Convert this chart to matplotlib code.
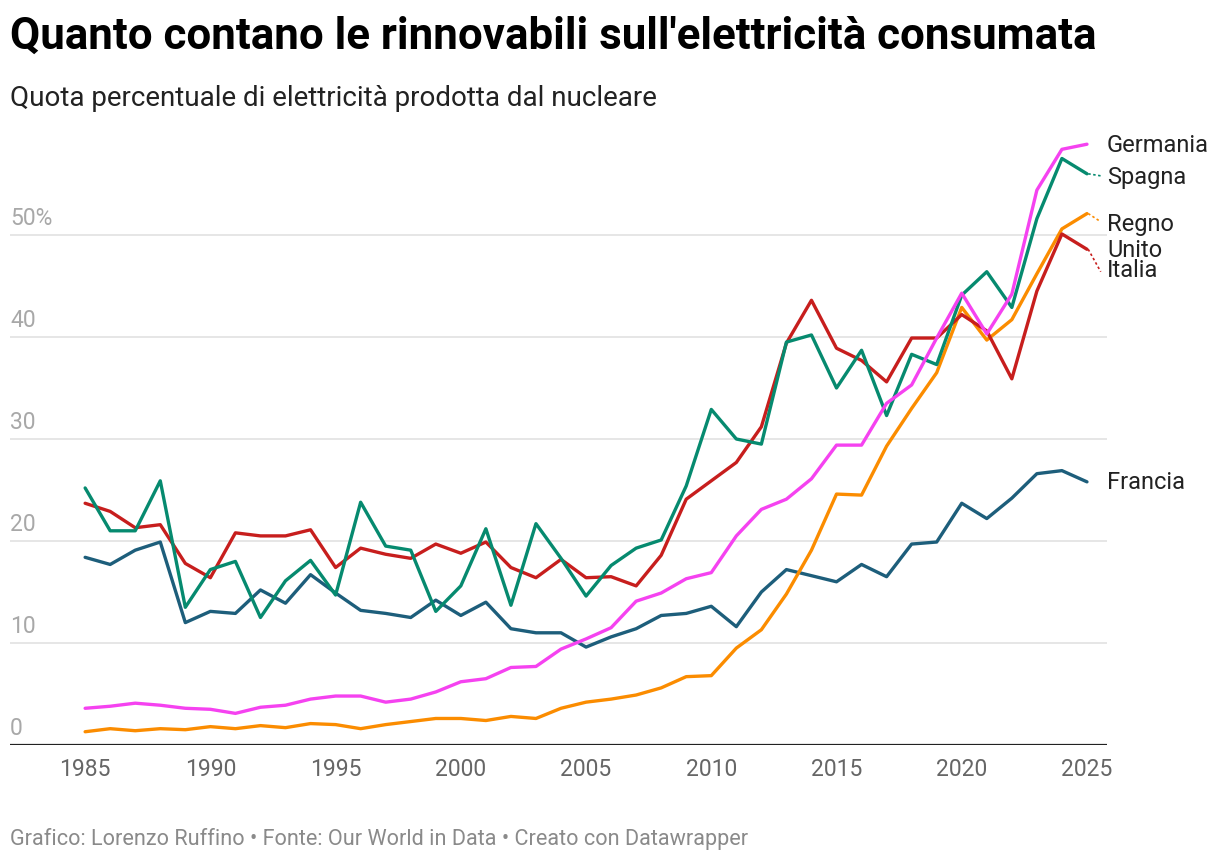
import matplotlib.pyplot as plt
import numpy as np

plt.rcParams['font.family'] = ['Roboto', 'DejaVu Sans']

years = list(range(1985, 2026))

# quota % per paese
francia = [18.4, 17.7, 19.1, 19.9, 12.0, 13.1, 12.9, 15.2, 13.9, 16.7,
           14.9, 13.2, 12.9, 12.5, 14.2, 12.7, 14.0, 11.4, 11.0, 11.0,
           9.6, 10.6, 11.4, 12.7, 12.9, 13.6, 11.6, 15.0, 17.2, 16.6,
           16.0, 17.7, 16.5, 19.7, 19.9, 23.7, 22.2, 24.2, 26.6, 26.9, 25.8]
spagna = [25.2, 21.0, 21.0, 25.9, 13.5, 17.2, 18.0, 12.5, 16.1, 18.1,
          14.7, 23.8, 19.5, 19.1, 13.1, 15.6, 21.2, 13.7, 21.7, 18.3,
          14.6, 17.6, 19.3, 20.1, 25.4, 32.9, 30.0, 29.5, 39.5, 40.2,
          35.0, 38.7, 32.3, 38.3, 37.3, 44.1, 46.4, 42.9, 51.6, 57.5, 56.0]
italia = [23.7, 22.9, 21.3, 21.6, 17.8, 16.4, 20.8, 20.5, 20.5, 21.1,
          17.4, 19.3, 18.7, 18.3, 19.7, 18.8, 19.9, 17.4, 16.4, 18.2,
          16.4, 16.5, 15.6, 18.6, 24.1, 25.9, 27.7, 31.2, 39.4, 43.6,
          38.9, 37.7, 35.6, 39.9, 39.9, 42.2, 40.6, 35.9, 44.5, 50.1, 48.6]
germania = [3.6, 3.8, 4.1, 3.9, 3.6, 3.5, 3.1, 3.7, 3.9, 4.5,
            4.8, 4.8, 4.2, 4.5, 5.2, 6.2, 6.5, 7.6, 7.7, 9.4,
            10.4, 11.5, 14.1, 14.9, 16.3, 16.9, 20.5, 23.1, 24.1, 26.1,
            29.4, 29.4, 33.5, 35.3, 39.9, 44.3, 40.3, 44.2, 54.4, 58.4, 58.9]
regno_unito = [1.3, 1.6, 1.4, 1.6, 1.5, 1.8, 1.6, 1.9, 1.7, 2.1,
               2.0, 1.6, 2.0, 2.3, 2.6, 2.6, 2.4, 2.8, 2.6, 3.6,
               4.2, 4.5, 4.9, 5.6, 6.7, 6.8, 9.5, 11.3, 14.8, 19.1,
               24.6, 24.5, 29.3, 33.0, 36.5, 42.9, 39.7, 41.7, 46.2, 50.6, 52.1]

labels = ['Francia', 'Regno\nUnito', 'Italia', 'Spagna', 'Germania']
colors = ['#1d5e7b', '#fb8c00', '#c71e1d', '#068a6f', '#f542f0']
label_y = [25.8, 49.85, 46.6, 55.7, 58.9]
# dove il connettore tocca l'etichetta
conn_y = [25.8, 51.3, 46.4, 55.8, 58.9]

y_ticks = [0, 10, 20, 30, 40, 50]
y_tick_labels = ['0', '10', '20', '30', '40', '50%']
x_ticks = [1985, 1990, 1995, 2000, 2005, 2010, 2015, 2020, 2025]

fig = plt.figure(figsize=(12.2, 8.62), dpi=100)
ax = fig.add_axes([10 / 1220, 1 - 746 / 862, 1097 / 1220, 612 / 862])

series = [francia, regno_unito, italia, spagna, germania]
for vals, col, lab, ly, cy in zip(series, colors, labels, label_y, conn_y):
    ax.plot(years, vals, color=col, lw=2.4, solid_joinstyle='round',
            solid_capstyle='round', zorder=3)
    # connettore verso l'etichetta
    if lab not in ('Francia', 'Germania'):
        ax.plot([years[-1] + 0.05, years[-1] + 0.55], [vals[-1], cy],
                color=col, lw=1.2, ls=(0, (1.5, 1.5)), zorder=2, clip_on=False)
    ax.text(2025.8, ly, lab, fontsize=17, color='#222222', va='center',
            ha='left', linespacing=1.12)

ax.set_xlim(1982.0, 2025.8)
ax.set_ylim(0, 60)

for t in y_ticks[1:]:
    ax.axhline(t, color='#e2e2e2', lw=1.2, zorder=1)
ax.axhline(0, color='#222222', lw=1.6, zorder=4)

for t, lab in zip(y_ticks, y_tick_labels):
    ax.text(1982.0, t + 0.6, lab, fontsize=16.5, color='#a8a8a8', ha='left', va='bottom')

ax.set_yticks([])
ax.set_xticks(x_ticks)
ax.set_xticklabels([str(x) for x in x_ticks], fontsize=16.5, color='#666666')
ax.tick_params(axis='x', length=0, pad=9)
for s in ax.spines.values():
    s.set_visible(False)

fig.text(10 / 1220, 1 - 37 / 862, "Quanto contano le rinnovabili sull'elettricità consumata",
         fontsize=31.6, fontweight='bold', color='#000000', va='center', ha='left')
fig.text(10 / 1220, 1 - 99 / 862, "Quota percentuale di elettricità prodotta dal nucleare",
         fontsize=20, color='#222222', va='center', ha='left')
fig.text(10 / 1220, 1 - 839 / 862,
         "Grafico: Lorenzo Ruffino \u2022 Fonte: Our World in Data \u2022 Creato con Datawrapper",
         fontsize=15.6, color='#8a8a8a', va='center', ha='left')

fig.savefig('out.png', dpi=100)
